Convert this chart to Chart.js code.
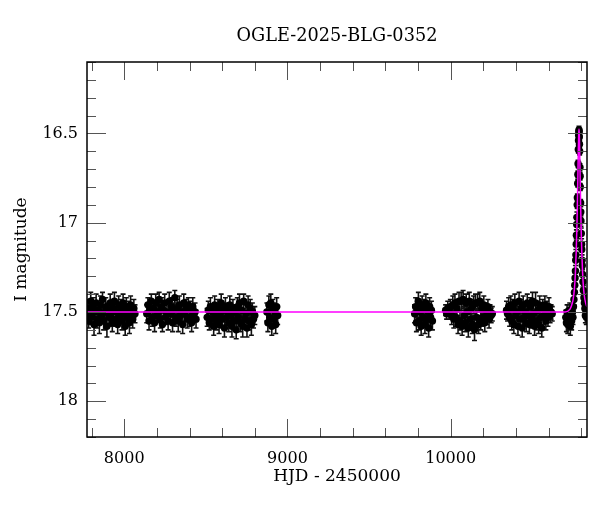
<!DOCTYPE html>
<html>
<head>
<meta charset="utf-8">
<script src="https://cdn.jsdelivr.net/npm/chart.js@4.4.1/dist/chart.umd.min.js"></script>
<style>
  body { margin: 0; background: #fff; }
  #wrap { width: 600px; height: 512px; }
</style>
</head>
<body>
<div id="wrap"><canvas id="lc"></canvas></div>
<script>
/**
 * OGLE-2025-BLG-0352 - I band light curve
 */

const TITLE = 'OGLE-2025-BLG-0352';
const FONT = 'DejaVu Serif';

// [HJD - 2450000, I mag, error], one array per observing season
const season2017 = [
    [7775,17.48,.05],[7782,17.55,.04],[7788,17.51,.05],[7795,17.44,.05],[7801,17.53,.04],
    [7808,17.47,.05],[7815,17.57,.06],[7821,17.50,.04],[7828,17.45,.05],[7834,17.54,.05],
    [7841,17.49,.04],[7848,17.56,.06],[7854,17.46,.05],[7861,17.52,.04],[7867,17.43,.04],
    [7874,17.55,.05],[7881,17.50,.04],[7887,17.47,.05],[7894,17.58,.06],[7900,17.49,.04],
    [7907,17.53,.05],[7914,17.45,.05],[7920,17.51,.04],[7927,17.56,.05],[7933,17.48,.05],
    [7940,17.44,.05],[7947,17.54,.04],[7953,17.50,.05],[7960,17.57,.05],[7966,17.46,.05],
    [7973,17.52,.04],[7980,17.48,.05],[7986,17.55,.05],[7993,17.45,.05],[7999,17.51,.04],
    [8006,17.58,.05],[8013,17.47,.05],[8019,17.53,.04],[8026,17.49,.05],[8032,17.56,.06],
    [8039,17.46,.05],[8046,17.52,.04],[8052,17.54,.05],[8059,17.48,.05],[8066,17.51,.05]
];
const season2018 = [
    [8138,17.51,.05],[8145,17.46,.04],[8152,17.55,.05],[8159,17.49,.05],[8166,17.44,.04],
    [8173,17.53,.05],[8179,17.48,.04],[8186,17.56,.05],[8193,17.45,.05],[8200,17.52,.04],
    [8207,17.50,.05],[8214,17.43,.04],[8221,17.54,.05],[8228,17.47,.05],[8234,17.57,.04],
    [8241,17.49,.05],[8248,17.45,.05],[8255,17.53,.04],[8262,17.50,.05],[8269,17.55,.05],
    [8276,17.44,.05],[8283,17.51,.04],[8289,17.47,.05],[8296,17.56,.05],[8303,17.49,.04],
    [8310,17.42,.04],[8317,17.53,.05],[8324,17.48,.05],[8331,17.55,.06],[8338,17.46,.05],
    [8344,17.52,.04],[8351,17.50,.05],[8358,17.57,.05],[8365,17.45,.05],[8372,17.51,.04],
    [8379,17.48,.05],[8386,17.54,.05],[8393,17.46,.04],[8399,17.53,.05],[8406,17.49,.05],
    [8413,17.56,.05],[8420,17.47,.05],[8427,17.52,.04],[8434,17.50,.05],[8440,17.54,.05]
];
const season2019 = [
    [8508,17.53,.05],[8515,17.49,.05],[8521,17.56,.04],[8528,17.47,.05],[8534,17.54,.05],
    [8541,17.50,.04],[8548,17.58,.05],[8554,17.46,.05],[8561,17.52,.04],[8567,17.55,.05],
    [8574,17.48,.05],[8581,17.57,.05],[8587,17.51,.04],[8594,17.45,.05],[8600,17.54,.05],
    [8607,17.49,.04],[8614,17.59,.05],[8620,17.47,.05],[8627,17.53,.04],[8633,17.50,.05],
    [8640,17.56,.05],[8647,17.46,.05],[8653,17.52,.04],[8660,17.58,.06],[8666,17.48,.05],
    [8673,17.55,.05],[8680,17.50,.04],[8686,17.60,.05],[8693,17.47,.05],[8699,17.53,.05],
    [8706,17.45,.05],[8713,17.56,.05],[8719,17.49,.04],[8726,17.58,.06],[8732,17.44,.04],
    [8739,17.54,.05],[8746,17.51,.05],[8752,17.59,.05],[8759,17.46,.05],[8765,17.55,.05],
    [8772,17.48,.05],[8779,17.57,.06],[8785,17.50,.05],[8792,17.54,.05],[8800,17.52,.05]
];
const season2020 = [
    [8874,17.50,.05],[8880,17.56,.05],[8886,17.46,.05],[8892,17.53,.04],[8898,17.45,.05],
    [8904,17.58,.05],[8910,17.48,.05],[8916,17.54,.05],[8922,17.50,.05],[8928,17.57,.05],
    [8934,17.47,.05],[8940,17.52,.05]
];
const season2022 = [
    [9779,17.51,.05],[9785,17.47,.05],[9790,17.56,.05],[9796,17.49,.04],[9802,17.44,.05],
    [9808,17.55,.05],[9813,17.50,.04],[9819,17.58,.05],[9825,17.46,.05],[9831,17.53,.05],
    [9836,17.48,.05],[9842,17.57,.05],[9848,17.45,.05],[9854,17.54,.05],[9859,17.50,.04],
    [9865,17.59,.05],[9871,17.47,.05],[9877,17.53,.05],[9882,17.49,.05],[9888,17.55,.05]
];
const season2023 = [
    [9969,17.49,.03],[9975,17.51,.03],[9982,17.48,.04],[9990,17.50,.04],[9998,17.47,.04],
    [10006,17.52,.05],[10013,17.46,.05],[10019,17.54,.05],[10026,17.45,.05],[10032,17.53,.05],
    [10038,17.48,.05],[10045,17.57,.05],[10051,17.44,.05],[10057,17.55,.05],[10064,17.44,.05],
    [10070,17.58,.05],[10076,17.43,.05],[10083,17.52,.05],[10089,17.56,.05],[10095,17.45,.05],
    [10102,17.50,.05],[10108,17.59,.05],[10114,17.44,.05],[10121,17.54,.05],[10127,17.48,.05],
    [10133,17.57,.05],[10140,17.46,.05],[10146,17.60,.06],[10152,17.45,.05],[10159,17.53,.05],
    [10165,17.45,.05],[10171,17.57,.05],[10178,17.44,.05],[10184,17.55,.05],[10190,17.48,.05],
    [10197,17.53,.05],[10203,17.46,.05],[10209,17.56,.05],[10216,17.49,.04],[10222,17.52,.05],
    [10228,17.47,.04],[10235,17.54,.05],[10241,17.50,.04],[10248,17.52,.04],[10255,17.51,.04]
];
const season2024 = [
    [10342,17.49,.05],[10348,17.51,.04],[10355,17.47,.05],[10361,17.53,.05],[10368,17.46,.05],
    [10374,17.55,.05],[10380,17.48,.05],[10387,17.57,.05],[10393,17.45,.05],[10400,17.52,.05],
    [10406,17.50,.05],[10412,17.58,.05],[10419,17.44,.05],[10425,17.54,.05],[10431,17.48,.05],
    [10438,17.59,.05],[10444,17.46,.05],[10450,17.53,.05],[10457,17.50,.05],[10463,17.56,.05],
    [10469,17.45,.05],[10476,17.52,.05],[10482,17.57,.05],[10488,17.47,.05],[10495,17.54,.05],
    [10501,17.44,.05],[10507,17.51,.05],[10514,17.58,.05],[10520,17.45,.06],[10526,17.55,.05],
    [10533,17.49,.05],[10539,17.57,.05],[10545,17.46,.05],[10552,17.53,.05],[10558,17.59,.05],
    [10564,17.48,.05],[10571,17.52,.05],[10577,17.46,.05],[10583,17.55,.05],[10590,17.49,.05],
    [10596,17.53,.05],[10602,17.47,.05],[10609,17.52,.04],[10615,17.50,.04],[10622,17.51,.04]
];
const season2025 = [
    [10705,17.53,.04],[10709,17.56,.05],[10713,17.50,.04],[10717,17.57,.05],[10721,17.52,.04],
    [10725,17.55,.05],[10729,17.49,.04],[10733,17.58,.05],[10737,17.51,.04],[10741,17.55,.05],
    [10745,17.50,.04],[10749,17.53,.04],[10752,17.47,.04],[10755,17.43,.03],[10758,17.39,.03],
    [10760,17.35,.03],[10762,17.31,.03],[10764,17.27,.03],[10766,17.21,.03],[10767,17.18,.03],
    [10769,17.12,.03],[10770,17.07,.03],[10772,17.01,.03],[10773,16.97,.03],[10775,16.90,.02],
    [10776,16.86,.02],[10778,16.78,.02],[10779,16.73,.02],[10780,16.67,.02],[10782,16.59,.02],
    [10783,16.54,.02],[10784,16.51,.02],[10785,16.49,.02],[10786,16.48,.02],[10787,16.49,.02],
    [10788,16.52,.02],[10789,16.56,.02],[10790,16.60,.02],[10792,16.69,.02],[10793,16.74,.02],
    [10794,16.80,.02],[10796,16.89,.02],[10797,16.94,.03],[10798,16.99,.03],[10800,17.06,.03],
    [10802,17.12,.03],[10803,17.15,.03],[10805,17.21,.03],[10806,17.24,.03],[10808,17.29,.03],
    [10810,17.33,.03],[10813,17.38,.03],[10816,17.42,.03],[10819,17.45,.04],[10822,17.48,.04],
    [10825,17.52,.04],[10828,17.49,.04],[10831,17.53,.04],[10834,17.50,.04]
];

// Microlensing model curve
const modelHjd = [7772, 10700, 10730, 10740, 10750, 10758, 10764, 10769, 10773, 10776,
    10779, 10782, 10784, 10786, 10788, 10790, 10793, 10796, 10799, 10803, 10808, 10814,
    10822, 10832, 10835];
const modelMag = [17.50, 17.50, 17.485, 17.465, 17.43, 17.37, 17.28, 17.16, 17.03, 16.90,
    16.75, 16.59, 16.51, 16.475, 16.51, 16.59, 16.75, 16.90, 17.03, 17.16, 17.28, 17.37,
    17.43, 17.465, 17.47];

const xTickLabels = [8000, 9000, 10000];
const yTickLabels = [16.5, 17, 17.5, 18];

const allPoints = [].concat(season2017, season2018, season2019, season2020,
    season2022, season2023, season2024, season2025);

/**
 * Error bars, drawn under the points
 */
const errorBars = {
    id: 'errorBars',
    beforeDatasetsDraw(chart) {
        const { ctx, chartArea: a, scales: { x, y } } = chart;
        ctx.save();
        ctx.beginPath();
        ctx.rect(a.left, a.top, a.width, a.height);
        ctx.clip();
        ctx.strokeStyle = '#111';
        ctx.lineWidth = 1.6;
        ctx.beginPath();
        for (const [t, m, e] of allPoints) {
            const px = x.getPixelForValue(t);
            const y1 = y.getPixelForValue(m - e);
            const y2 = y.getPixelForValue(m + e);
            ctx.moveTo(px, y1); ctx.lineTo(px, y2);
            ctx.moveTo(px - 2.5, y1); ctx.lineTo(px + 2.5, y1);
            ctx.moveTo(px - 2.5, y2); ctx.lineTo(px + 2.5, y2);
        }
        ctx.stroke();
        ctx.restore();
    }
};

/**
 * Title over the plot box, box frame with inward ticks on all four sides
 */
const frame = {
    id: 'frame',
    afterDraw(chart) {
        const { ctx, chartArea: a, scales: { x, y } } = chart;
        ctx.save();
        ctx.fillStyle = '#000';
        ctx.font = `17.7px "${FONT}"`;
        ctx.textAlign = 'center';
        ctx.textBaseline = 'alphabetic';
        ctx.fillText(TITLE, (a.left + a.right) / 2, 41);

        ctx.strokeStyle = '#555';
        ctx.lineWidth = 1;
        ctx.beginPath();
        for (let v = 7800; v <= 10800; v += 200) {
            const px = Math.round(x.getPixelForValue(v)) + 0.5;
            const len = xTickLabels.includes(v) ? 18 : 9;
            ctx.moveTo(px, a.bottom); ctx.lineTo(px, a.bottom - len);
            ctx.moveTo(px, a.top); ctx.lineTo(px, a.top + len);
        }
        for (let i = 161; i <= 182; i++) {
            const py = Math.round(y.getPixelForValue(i / 10)) + 0.5;
            const len = i % 5 === 0 ? 19 : 9;
            ctx.moveTo(a.left, py); ctx.lineTo(a.left + len, py);
            ctx.moveTo(a.right, py); ctx.lineTo(a.right - len, py);
        }
        ctx.stroke();
        ctx.strokeStyle = '#000';
        ctx.lineWidth = 1.5;
        ctx.strokeRect(a.left, a.top, a.width, a.height);
        ctx.restore();
    }
};

new Chart(document.getElementById('lc'), {
    type: 'scatter',
    data: {
        datasets: [
            {
                label: 'model',
                type: 'line',
                data: modelHjd.map((t, i) => ({ x: t, y: modelMag[i] })),
                borderColor: '#ff00ff',
                borderWidth: 1.5,
                pointRadius: 0,
                fill: false,
                cubicInterpolationMode: 'monotone',
                order: 0,
            },
            {
                label: 'OGLE I',
                data: allPoints.map(p => ({ x: p[0], y: p[1] })),
                backgroundColor: '#000',
                borderWidth: 0,
                pointRadius: 3.7,
                order: 1,
            },
        ],
    },
    options: {
        responsive: true,
        maintainAspectRatio: false,
        animation: false,
        layout: { padding: { left: 0, right: 13, top: 62, bottom: 0 } },
        plugins: {
            legend: { display: false },
            tooltip: { enabled: false },
            title: { display: false },
        },
        scales: {
            x: {
                type: 'linear',
                min: 7772,
                max: 10835,
                grid: { display: false },
                border: { display: false },
                afterBuildTicks: s => { s.ticks = xTickLabels.map(v => ({ value: v })); },
                afterFit: s => { s.height = 75; },
                ticks: {
                    color: '#000',
                    font: { family: FONT, size: 16 },
                    padding: 4,
                    maxRotation: 0,
                    callback: v => String(v),
                },
                title: {
                    display: true,
                    text: 'HJD - 2450000',
                    color: '#000',
                    font: { family: FONT, size: 17 },
                    padding: { top: 0, bottom: 25 },
                },
            },
            y: {
                type: 'linear',
                reverse: true,
                min: 16.1,
                max: 18.2,
                grid: { display: false },
                border: { display: false },
                afterBuildTicks: s => { s.ticks = yTickLabels.map(v => ({ value: v })); },
                afterFit: s => { s.width = 87; },
                ticks: {
                    color: '#000',
                    font: { family: FONT, size: 16 },
                    padding: 1,
                    callback: v => String(v),
                },
                title: {
                    display: true,
                    text: 'I magnitude',
                    color: '#000',
                    font: { family: FONT, size: 17 },
                    padding: { top: 11, bottom: 0 },
                },
            },
        },
    },
    plugins: [errorBars, frame],
});
</script>
</body>
</html>
